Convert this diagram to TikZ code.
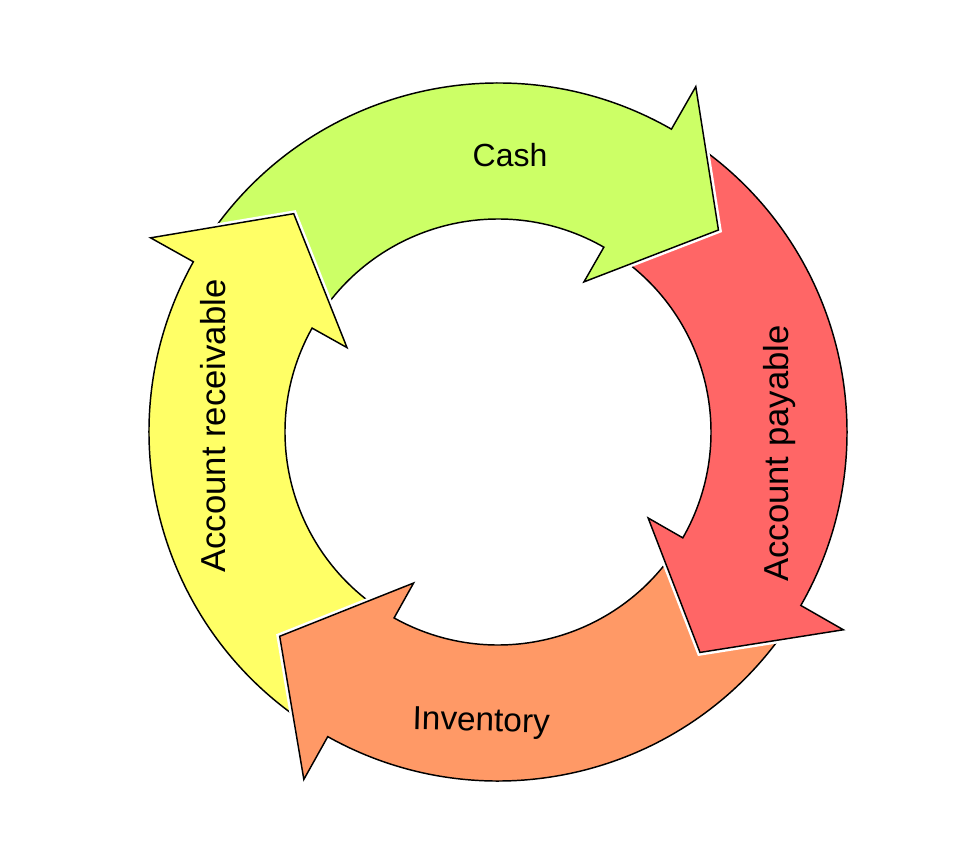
\documentclass[tikz,border=0pt]{standalone}
\usepackage{fontspec}
\setmainfont{Liberation Sans}
\definecolor{cashgreen}{RGB}{204,255,102}
\definecolor{payred}{RGB}{255,102,102}
\definecolor{invorange}{RGB}{255,153,102}
\definecolor{recyellow}{RGB}{255,255,102}
% #1 tail angle, #2 head base angle, #3 fill colour
\newcommand{\cyclearrowpath}[2]{(#1:349) arc[start angle=#1, end angle=#2, radius=349] -- (#2:398) -- ({#2-17.7}:299) -- (#2:173) -- (#2:213) arc[start angle=#2, end angle=#1, radius=213] -- cycle}
\newcommand{\cyclearrow}[3]{%
  \path[halo] \cyclearrowpath{#1}{#2};
  \path[arrowbody, fill=#3] \cyclearrowpath{#1}{#2};
}
\begin{document}
\begin{tikzpicture}[x=0.75pt,y=0.75pt,
  halo/.style={draw=white, line width=4.8pt, line join=miter},
  arrowbody/.style={draw=black, line width=1.1pt, line join=miter},
  lbl/.style={font=\fontsize{26}{31}\selectfont, inner sep=0pt, anchor=base, text=black}]
\useasboundingbox (0,0) rectangle (960,844);
\fill[white] (0,0) rectangle (960,844);
\begin{scope}[shift={(498,412)}]
  % drawing order so that each head lies over the next arrow's tail
  \cyclearrow{236.8}{150.8}{recyellow}
  \cyclearrow{-33.8}{-119.2}{invorange}
  \cyclearrow{56.2}{-29.8}{payred}
  \cyclearrow{146.8}{60.2}{cashgreen}
  \begin{scope}
    \clip (-520,0) rectangle (520,520);
    \cyclearrow{236.8}{150.8}{recyellow}
  \end{scope}
\end{scope}
\node[lbl, font=\fontsize{24}{29}\selectfont] (cash) at (510,677) {Cash};
\node[lbl, rotate=90] (payable) at (788,390.5) {Account payable};
\node[lbl, rotate=90] (receivable) at (225,418) {Account receivable};
\node[lbl, font=\fontsize{25}{30}\selectfont, rotate=-1.5] (inventory) at (481,113) {Inventory};
\end{tikzpicture}
\end{document}
